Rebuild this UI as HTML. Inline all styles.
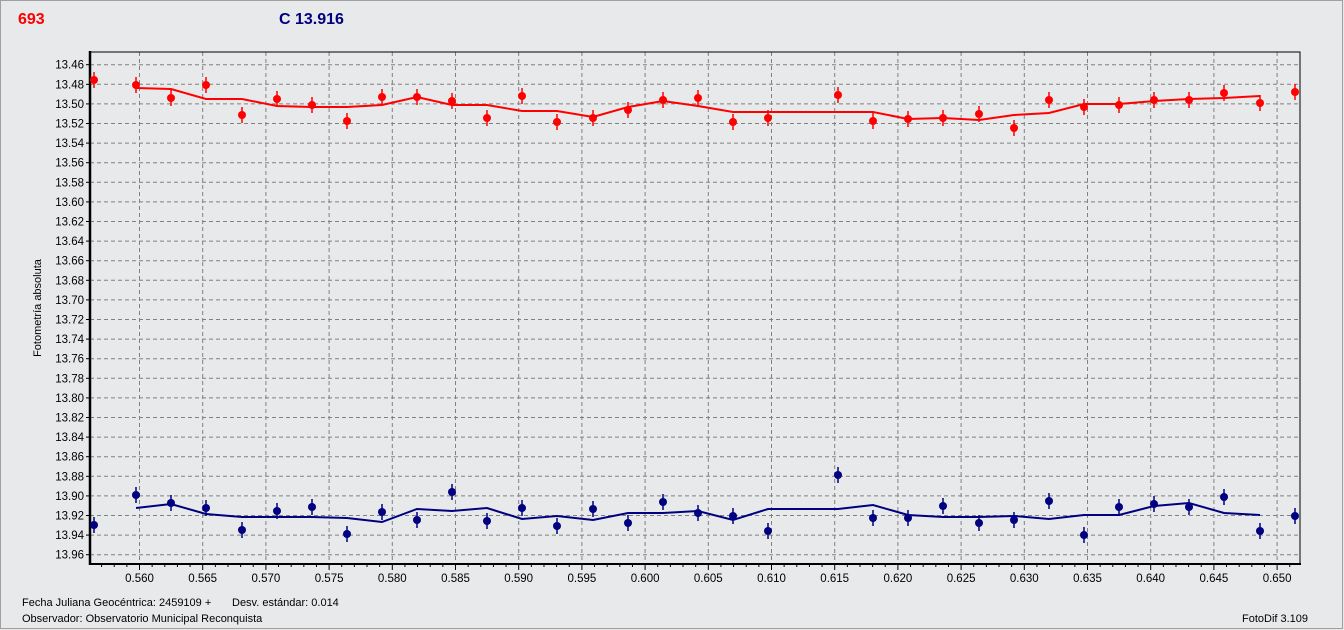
<!DOCTYPE html>
<html><head><meta charset="utf-8"><style>
html,body{margin:0;padding:0;background:#e8e8e8;}
svg{display:block;font-family:"Liberation Sans",sans-serif;}
</style></head><body>
<svg id="s" width="1344" height="630" xmlns="http://www.w3.org/2000/svg">
<rect x="0.5" y="0.5" width="1342" height="628" fill="#e8e9ea" stroke="#a0a0a0"/>
<text x="18" y="24" font-size="16" font-weight="bold" fill="#ff0000">693</text>
<text x="279" y="24" font-size="16" font-weight="bold" fill="#000080">C 13.916</text>
<g id="grid"></g>
<rect x="90" y="52" width="1210" height="512" fill="none" stroke="#000" stroke-width="1"/>
<line x1="90" y1="51" x2="90" y2="565" stroke="#000" stroke-width="2.5"/>
<line x1="89" y1="564" x2="1301" y2="564" stroke="#000" stroke-width="2"/>
<text transform="translate(41,308) rotate(-90)" font-size="11" text-anchor="middle" fill="#000">Fotometría absoluta</text>
<g id="data"></g>
<text x="22" y="606" font-size="11" fill="#000">Fecha Juliana Geocéntrica: 2459109 +</text>
<text x="232" y="606" font-size="11" fill="#000">Desv. estándar: 0.014</text>
<text x="22" y="622" font-size="11" fill="#000">Observador: Observatorio Municipal Reconquista</text>
<text x="1242" y="622" font-size="11" fill="#000">FotoDif 3.109</text>
</svg>
<script>
var g=document.getElementById('grid'),d=document.getElementById('data'),h='';
for(var i=0;i<=25;i++){var y=64.7+i*19.6;var v=(13.46+i*0.02).toFixed(2);
h+='<line x1="90" y1="'+y+'" x2="1300" y2="'+y+'" stroke="#808080" stroke-dasharray="4,3" stroke-width="1"/>';
h+='<line x1="86" y1="'+y+'" x2="90" y2="'+y+'" stroke="#000"/>';
h+='<text x="84" y="'+(y+4)+'" font-size="11.5" text-anchor="end" fill="#000">'+v+'</text>';}
for(var k=-3;k<=95;k++){var x=139.5+k*12.64;if(x<91||x>1299)continue;
if(k%5==0){h+='<line x1="'+x+'" y1="52" x2="'+x+'" y2="564" stroke="#808080" stroke-dasharray="4,3"/>';
h+='<line x1="'+x+'" y1="564" x2="'+x+'" y2="570" stroke="#000"/>';
h+='<text x="'+x+'" y="582" font-size="11.5" text-anchor="middle" fill="#000">'+(0.56+k*0.001).toFixed(3)+'</text>';}
else h+='<line x1="'+x+'" y1="564" x2="'+x+'" y2="567" stroke="#000"/>';}
g.innerHTML=h;
var xs=[94,136,171,206,242,277,312,347,382,417,452,487,522,557,593,628,663,698,733,768,838,873,908,943,979,1014,1049,1084,1119,1154,1189,1224,1260,1295];
var rp=[80,85,98,85,115,99,105,121,97,97,101,118,96,122,118,110,100,98,122,118,95,121,119,118,114,128,100,107,105,100,100,93,103,92];
var bp=[525,495,503,508,530,511,507,534,512,520,492,521,508,526,509,523,502,513,516,531,475,518,518,506,523,520,501,535,507,504,507,497,531,516];
var lx=xs.slice(1,33);
var rl=[88,89,99,99,106,107,107,105,97,105,105,111,111,117,107,101,106,112,112,112,112,119,118,120,115,113,104,104,101,99,98,96];
var bl=[508,504,514,517,517,517,518,522,509,511,508,519,516,520,513,513,511,520,509,509,505,515,517,517,516,519,515,515,506,503,513,515];
function line(ys,c){var p=lx.map(function(x,i){return x+','+ys[i]}).join(' ');return '<polyline points="'+p+'" fill="none" stroke="'+c+'" stroke-width="2"/>';}
function pts(ys,c){var s='';xs.forEach(function(x,i){var y=ys[i];s+='<line x1="'+x+'" y1="'+(y-8)+'" x2="'+x+'" y2="'+(y+8)+'" stroke="'+c+'" stroke-width="1.5"/><circle cx="'+x+'" cy="'+y+'" r="4" fill="'+c+'"/>';});return s;}
d.innerHTML=line(rl,'#ff0000')+pts(rp,'#ff0000')+line(bl,'#000080')+pts(bp,'#000080');
</script>
</body></html>
